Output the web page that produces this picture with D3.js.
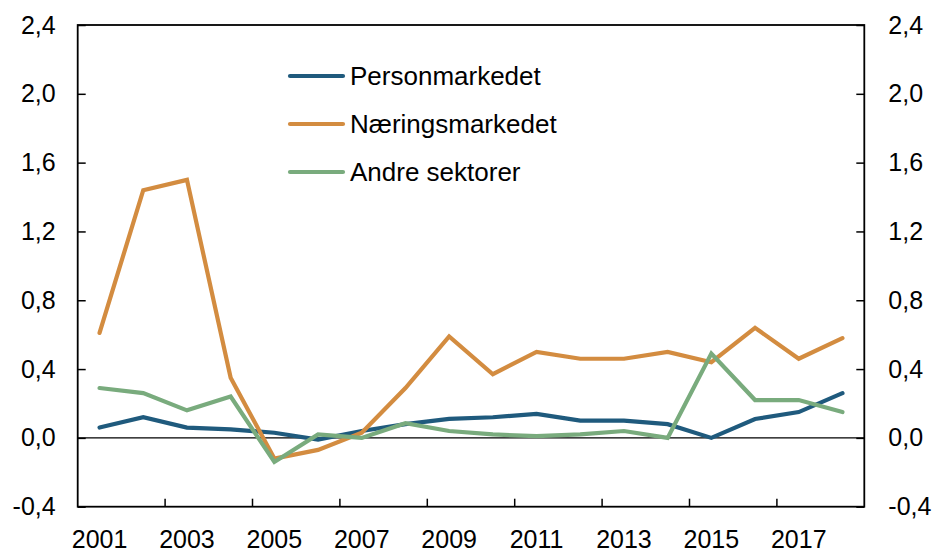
<!DOCTYPE html>
<html>
<head>
    <meta charset="UTF-8">
    <title>Personmarkedet, Næringsmarkedet, Andre sektorer</title>
    <script src="https://d3js.org/d3.v7.min.js"></script>
    <style>
        body { margin: 0; background: #fff; }
        text { font-family: "Liberation Sans", Arial, sans-serif; fill: #000; }
    </style>
</head>
<body>
    <svg id="chart"></svg>

    <script>
    // data
    const years = d3.range(2001, 2019).map(String);
    const personmarkedet = [0.06, 0.12, 0.06, 0.05, 0.03, -0.01, 0.04, 0.08, 0.11, 0.12, 0.14, 0.10, 0.10, 0.08, 0.00, 0.11, 0.15, 0.26];
    const naeringsmarkedet = [0.61, 1.44, 1.50, 0.35, -0.12, -0.07, 0.03, 0.29, 0.59, 0.37, 0.50, 0.46, 0.46, 0.50, 0.44, 0.64, 0.46, 0.58];
    const andreSektorer = [0.29, 0.26, 0.16, 0.24, -0.14, 0.02, 0.00, 0.085, 0.04, 0.02, 0.01, 0.02, 0.04, 0.00, 0.49, 0.22, 0.22, 0.15];
    const yTicks = [-0.4, 0, 0.4, 0.8, 1.2, 1.6, 2.0, 2.4];
    const labelYears = ["2001", "2003", "2005", "2007", "2009", "2011", "2013", "2015", "2017"];

    const series = [
        {name: "Personmarkedet", values: personmarkedet, color: "#1f5a7d"},
        {name: "Næringsmarkedet", values: naeringsmarkedet, color: "#d38c40"},
        {name: "Andre sektorer", values: andreSektorer, color: "#79ab7d"}
    ];

    const width = 936, height = 552;
    const margins = {top: 25, bottom: 45.3, left: 77.7, right: 71.7};
    const w = width - margins.left - margins.right;
    const h = height - margins.top - margins.bottom;

    const svg = d3.select("#chart")
        .attr("width", width)
        .attr("height", height);

    const chart = svg.append("g")
        .attr("transform", `translate(${margins.left}, ${margins.top})`);

    const x = d3.scaleBand().domain(years).range([0, w]);
    const y = d3.scaleLinear().domain([-0.4, 2.4]).range([h, 0]);

    const no = d3.formatLocale({decimal: ",", thousands: " ", grouping: [3], currency: ["", " kr"], minus: "-"});
    const fmt = no.format(".1f");

    // left axis
    const left = chart.append("g")
        .call(d3.axisLeft(y).tickValues(yTicks).tickFormat(fmt).tickSize(-8).tickPadding(22));
    // right axis
    const right = chart.append("g")
        .attr("transform", `translate(${w}, 0)`)
        .call(d3.axisRight(y).tickValues(yTicks).tickFormat(fmt).tickSize(-8).tickPadding(24));

    [left, right].forEach(g => {
        g.select(".domain").remove();
        g.selectAll("line").attr("stroke", "#000").attr("stroke-width", 1.5);
        g.selectAll("text").style("font-size", "25px").attr("fill", "#000");
    });

    // bottom labels
    const bottom = chart.append("g")
        .attr("transform", `translate(0, ${h})`)
        .call(d3.axisBottom(x).tickValues(labelYears).tickSize(0).tickPadding(24));
    bottom.select(".domain").remove();
    bottom.selectAll("text").style("font-size", "25px").attr("fill", "#000");

    // bottom ticks at every second year boundary
    chart.append("g")
        .selectAll("line")
        .data(years.filter((d, i) => i > 0 && i % 2 === 0))
        .enter()
        .append("line")
        .attr("x1", d => x(d)).attr("x2", d => x(d))
        .attr("y1", h).attr("y2", h - 8)
        .attr("stroke", "#000").attr("stroke-width", 1.5);

    // zero line
    chart.append("line")
        .attr("x1", 0).attr("x2", w)
        .attr("y1", y(0)).attr("y2", y(0))
        .attr("stroke", "#000").attr("stroke-width", 1.2);

    // frame
    chart.append("rect")
        .attr("x", 0).attr("y", 0)
        .attr("width", w).attr("height", h)
        .attr("fill", "none")
        .attr("stroke", "#000").attr("stroke-width", 1.8);

    const line = d3.line()
        .x((d, i) => x(years[i]) + x.bandwidth() / 2)
        .y(d => y(d));

    chart.selectAll(".series")
        .data(series)
        .enter()
        .append("path")
        .attr("class", "series")
        .attr("d", d => line(d.values))
        .attr("fill", "none")
        .attr("stroke", d => d.color)
        .attr("stroke-width", 4.2)
        .attr("stroke-linecap", "round");

    // legend
    const legend = svg.append("g")
        .selectAll("g")
        .data(series)
        .enter()
        .append("g")
        .attr("transform", (d, i) => `translate(290, ${76 + i * 48})`);

    legend.append("line")
        .attr("x1", 0).attr("x2", 53)
        .attr("stroke", d => d.color)
        .attr("stroke-width", 4.2)
        .attr("stroke-linecap", "round");

    legend.append("text")
        .attr("x", 60)
        .attr("dy", "0.35em")
        .style("font-size", "26px")
        .text(d => d.name);
    </script>
</body>
</html>
